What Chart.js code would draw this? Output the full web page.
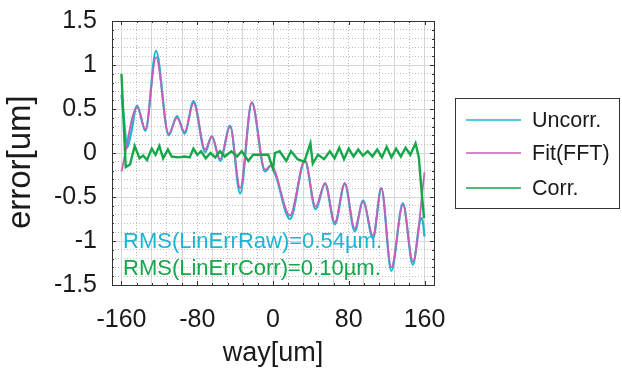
<!DOCTYPE html>
<html>
<head>
<meta charset="utf-8">
<script src="https://cdn.jsdelivr.net/npm/chart.js@4.4.1/dist/chart.umd.min.js"></script>
<style>
  html, body { margin: 0; padding: 0; background: #fff; }
  #wrap { width: 622px; height: 370px; }
</style>
</head>
<body>
<div id="wrap"><canvas id="err-chart" width="622" height="370"></canvas></div>
<script>
// values: way [um] -> error [um]
var rawX = [-160, -157, -154, -150, -143.5, -134.7, -123.5, -110.2, -101.4, -93.3, -83.9, -71.6, -64.6, -55.8, -45.3, -34.7, -22.4, -8.4, -2, 3, 17.9, 33.7, 45, 55, 65.3, 75.8, 86.3, 95.1, 105.6, 114.4, 124.9, 137.2, 147.7, 155, 157.5, 160];
var rawY = [0.66, 0.35, 0.06, 0.22, 0.54, 0.25, 1.16, 0.20, 0.42, 0.22, 0.59, 0.01, 0.19, -0.09, 0.31, -0.46, 0.57, -0.21, -0.14, -0.26, -0.75, -0.09, -0.64, -0.35, -0.81, -0.35, -0.89, -0.54, -0.97, -0.40, -1.34, -0.57, -1.27, -0.78, -0.74, -0.95];

var fitX = [-160, -143.5, -134.7, -123.5, -110.2, -101.4, -93.3, -83.9, -71.6, -64.6, -55.8, -45.3, -34.7, -22.4, -8.4, -2, 17.9, 33.7, 45, 55, 65.3, 75.8, 86.3, 95.1, 105.6, 114.4, 124.9, 137.2, 147.7, 160];
var fitY = [-0.21, 0.52, 0.27, 1.09, 0.22, 0.40, 0.24, 0.57, 0.04, 0.19, -0.07, 0.30, -0.40, 0.58, -0.19, -0.14, -0.71, -0.08, -0.61, -0.34, -0.79, -0.34, -0.86, -0.55, -0.94, -0.40, -1.30, -0.59, -1.23, -0.22];

var corrX = [-160, -157.5, -155.5, -151, -146, -141, -137, -133, -128, -124, -120, -116, -111, -107, -100, -93, -88, -84, -80, -76, -71, -66, -61, -56, -51, -44, -38, -33, -26, -21, -5, 0, 2, 7, 14, 19, 26, 33, 39.5, 42, 47.5, 54, 60, 65, 70, 75, 80, 85, 90, 95, 100, 105, 110, 115, 120, 125, 130, 135, 140, 145, 150.5, 154, 157, 159.5];
var corrY = [0.90, 0.30, -0.16, -0.13, 0.08, -0.06, -0.03, -0.08, 0.05, -0.02, 0.08, -0.06, 0.04, -0.04, -0.05, -0.04, -0.05, 0.05, -0.02, 0.02, -0.06, 0.00, -0.05, 0.02, -0.04, 0.02, -0.04, 0.02, -0.09, -0.02, -0.02, -0.18, 0.00, 0.02, -0.09, 0.02, -0.07, -0.10, 0.11, -0.12, -0.02, -0.07, 0.02, -0.06, 0.06, -0.07, 0.05, -0.04, 0.04, -0.03, 0.02, -0.04, 0.04, -0.05, 0.07, -0.05, 0.05, -0.04, 0.06, -0.02, 0.11, -0.05, -0.45, -0.74];

var seriesNames = ['Uncorr.', 'Fit(FFT)', 'Corr.'];
var seriesColors = ['#1bb6d3', '#c560b5', '#14a84b'];
var xTickLabels = [-160, -80, 0, 80, 160];
var yTickLabels = [-1.5, -1, -0.5, 0, 0.5, 1, 1.5];
var rmsTexts = ['RMS(LinErrRaw)=0.54µm.', 'RMS(LinErrCorr)=0.10µm.'];
var rmsColors = ['#1bb6d3', '#14a84b'];

function toPoints(xs, ys) {
  return xs.map(function (x, i) { return { x: x, y: ys[i] }; });
}

var FONT = "'Liberation Sans', Arial, Helvetica, sans-serif";
Chart.defaults.font.family = FONT;
Chart.defaults.color = '#1a1a1a';

function isMajorY(v) { return Math.abs(v * 2 - Math.round(v * 2)) < 1e-6; }

// plot box, inward ticks, RMS notes and the boxed legend
var decorations = {
  id: 'decorations',
  afterDatasetsDraw: function (chart) {
    var ctx = chart.ctx, a = chart.chartArea;
    var xs = chart.scales.x, ys = chart.scales.y;
    ctx.save();
    ctx.strokeStyle = '#333';
    ctx.lineWidth = 1;
    ctx.beginPath();
    for (var v = -160; v <= 160; v += 16) {
      var px = Math.round(xs.getPixelForValue(v)) + 0.5;
      var len = xTickLabels.indexOf(v) >= 0 ? 4 : 2;
      ctx.moveTo(px, a.bottom); ctx.lineTo(px, a.bottom - len);
      ctx.moveTo(px, a.top); ctx.lineTo(px, a.top + len);
    }
    for (var k = -15; k <= 15; k++) {
      var py = Math.round(ys.getPixelForValue(k / 10)) + 0.5;
      var l2 = isMajorY(k / 10) ? 4 : 2;
      ctx.moveTo(a.left, py); ctx.lineTo(a.left + l2, py);
      ctx.moveTo(a.right, py); ctx.lineTo(a.right - l2, py);
    }
    ctx.stroke();
    ctx.strokeRect(Math.round(a.left) + 0.5, Math.round(a.top) + 0.5,
      Math.round(a.right - a.left), Math.round(a.bottom - a.top));

    ctx.font = '22px ' + FONT;
    ctx.textAlign = 'left';
    ctx.textBaseline = 'alphabetic';
    ctx.fillStyle = rmsColors[0];
    ctx.fillText(rmsTexts[0], 123, 248);
    ctx.fillStyle = rmsColors[1];
    ctx.fillText(rmsTexts[1], 123, 275);
    ctx.restore();
  },
  afterDraw: function (chart) {
    var ctx = chart.ctx;
    ctx.save();
    ctx.fillStyle = '#fff';
    ctx.fillRect(455.5, 98.5, 164, 110);
    ctx.strokeStyle = '#333';
    ctx.lineWidth = 1;
    ctx.strokeRect(455.5, 98.5, 164, 110);
    var rows = [120, 153, 188];
    ctx.font = '21.5px ' + FONT;
    ctx.textBaseline = 'middle';
    ctx.textAlign = 'left';
    chart.data.datasets.forEach(function (ds, i) {
      ctx.strokeStyle = ds.borderColor;
      ctx.lineWidth = 1.5;
      ctx.beginPath();
      ctx.moveTo(466, rows[i]);
      ctx.lineTo(521, rows[i]);
      ctx.stroke();
      ctx.fillStyle = '#1a1a1a';
      ctx.fillText(ds.label, 532, rows[i] + 1);
    });
    ctx.restore();
  }
};

var chart = new Chart(document.getElementById('err-chart').getContext('2d'), {
  type: 'line',
  data: {
    datasets: [{
      label: seriesNames[0],
      data: toPoints(rawX, rawY),
      borderColor: seriesColors[0],
      borderWidth: 2.2,
      cubicInterpolationMode: 'monotone',
      order: 2
    }, {
      label: seriesNames[1],
      data: toPoints(fitX, fitY),
      borderColor: seriesColors[1],
      borderWidth: 1.8,
      cubicInterpolationMode: 'monotone',
      order: 1
    }, {
      label: seriesNames[2],
      data: toPoints(corrX, corrY),
      borderColor: seriesColors[2],
      borderWidth: 2.4,
      tension: 0,
      order: 0
    }]
  },
  options: {
    responsive: false,
    animation: false,
    devicePixelRatio: 1,
    elements: { point: { radius: 0 } },
    layout: { padding: { left: 0, top: 21, right: 188, bottom: 0 } },
    scales: {
      x: {
        type: 'linear',
        min: -170,
        max: 170,
        afterBuildTicks: function (scale) {
          var t = [];
          for (var v = -160; v <= 160; v += 16) t.push({ value: v });
          scale.ticks = t;
        },
        afterFit: function (scale) { scale.height = 85; },
        ticks: {
          autoSkip: false,
          maxRotation: 0,
          padding: 20,
          font: { size: 25 },
          callback: function (v) { return xTickLabels.indexOf(v) >= 0 ? String(v) : ''; }
        },
        grid: {
          drawTicks: false,
          color: function (c) {
            if (!c.tick) return '#ccc';
            return c.tick.value % 32 === 0 ? '#d6d6d6' : '#bdbdbd';
          },
          lineWidth: 1
        },
        border: {
          display: false,
          dash: function (c) {
            if (!c.tick) return [];
            return c.tick.value % 32 === 0 ? [] : [1, 2];
          }
        },
        title: {
          display: true,
          text: 'way[um]',
          font: { size: 27 },
          padding: { top: 0, bottom: 0 }
        }
      },
      y: {
        type: 'linear',
        min: -1.5,
        max: 1.5,
        afterBuildTicks: function (scale) {
          var t = [];
          for (var k = -15; k <= 15; k++) t.push({ value: k / 10 });
          scale.ticks = t;
        },
        afterFit: function (scale) { scale.width = 112; },
        ticks: {
          autoSkip: false,
          padding: 0,
          font: { size: 25 },
          callback: function (v) {
            var r = Math.round(v * 10) / 10;
            return yTickLabels.indexOf(r) >= 0 ? String(r) : '';
          }
        },
        grid: {
          drawTicks: true,
          tickLength: 15,
          tickColor: 'rgba(0,0,0,0)',
          color: function (c) {
            if (!c.tick) return '#ccc';
            return isMajorY(c.tick.value) ? '#d6d6d6' : '#bdbdbd';
          },
          lineWidth: 1
        },
        border: {
          display: false,
          dash: function (c) {
            if (!c.tick) return [];
            return isMajorY(c.tick.value) ? [] : [1, 2];
          }
        },
        title: {
          display: true,
          text: 'error[um]  ',
          font: { size: 33 },
          padding: { top: 1, bottom: 0 }
        }
      }
    },
    plugins: {
      legend: { display: false },
      tooltip: { enabled: false }
    }
  },
  plugins: [decorations]
});
</script>
</body>
</html>
